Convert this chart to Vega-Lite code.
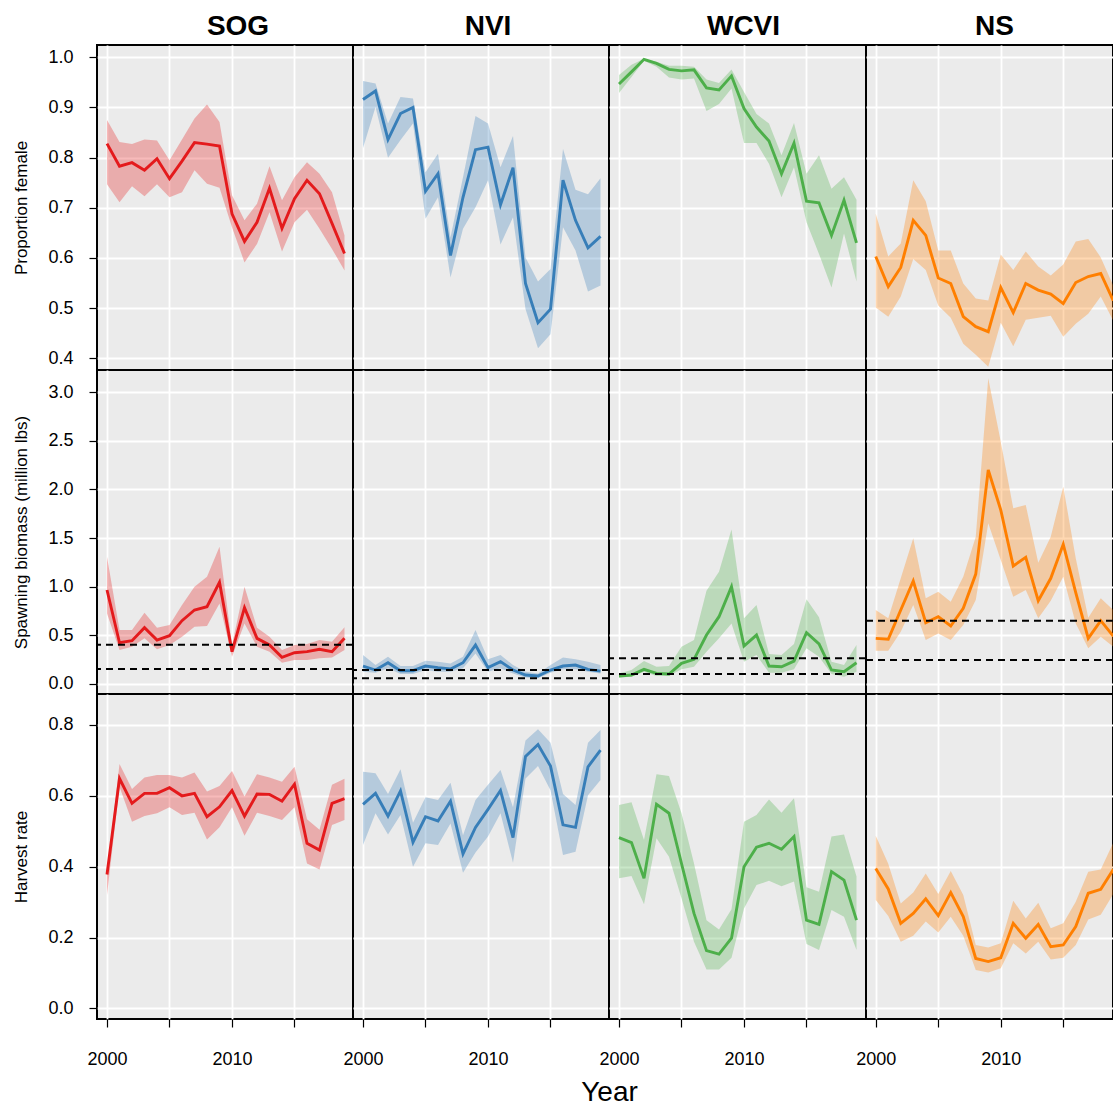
{
"$schema":"https://vega.github.io/schema/vega-lite/v6.json",
"background":"white",
"padding":{"left":11,"top":12,"right":0,"bottom":0},
"datasets":{
"SOG_pf":[{"year":2000,"est":0.828,"lo":0.747,"hi":0.875},{"year":2001,"est":0.783,"lo":0.711,"hi":0.831},{"year":2002,"est":0.790,"lo":0.743,"hi":0.827},{"year":2003,"est":0.775,"lo":0.723,"hi":0.836},{"year":2004,"est":0.798,"lo":0.747,"hi":0.834},{"year":2005,"est":0.758,"lo":0.721,"hi":0.795},{"year":2006,"est":0.793,"lo":0.731,"hi":0.836},{"year":2007,"est":0.830,"lo":0.775,"hi":0.878},{"year":2008,"est":0.827,"lo":0.748,"hi":0.906},{"year":2009,"est":0.823,"lo":0.740,"hi":0.871},{"year":2010,"est":0.688,"lo":0.661,"hi":0.725},{"year":2011,"est":0.633,"lo":0.591,"hi":0.675},{"year":2012,"est":0.671,"lo":0.628,"hi":0.708},{"year":2013,"est":0.739,"lo":0.691,"hi":0.783},{"year":2014,"est":0.659,"lo":0.613,"hi":0.715},{"year":2015,"est":0.718,"lo":0.671,"hi":0.761},{"year":2016,"est":0.755,"lo":0.696,"hi":0.791},{"year":2017,"est":0.728,"lo":0.658,"hi":0.768},{"year":2018,"est":0.669,"lo":0.618,"hi":0.731},{"year":2019,"est":0.609,"lo":0.575,"hi":0.645}],
"NVI_pf":[{"year":2000,"est":0.916,"lo":0.819,"hi":0.953},{"year":2001,"est":0.933,"lo":0.901,"hi":0.948},{"year":2002,"est":0.836,"lo":0.800,"hi":0.868},{"year":2003,"est":0.888,"lo":0.835,"hi":0.921},{"year":2004,"est":0.900,"lo":0.868,"hi":0.918},{"year":2005,"est":0.733,"lo":0.678,"hi":0.771},{"year":2006,"est":0.768,"lo":0.721,"hi":0.808},{"year":2007,"est":0.605,"lo":0.561,"hi":0.641},{"year":2008,"est":0.721,"lo":0.658,"hi":0.761},{"year":2009,"est":0.816,"lo":0.701,"hi":0.883},{"year":2010,"est":0.821,"lo":0.755,"hi":0.868},{"year":2011,"est":0.706,"lo":0.627,"hi":0.781},{"year":2012,"est":0.780,"lo":0.681,"hi":0.843},{"year":2013,"est":0.549,"lo":0.498,"hi":0.601},{"year":2014,"est":0.471,"lo":0.420,"hi":0.553},{"year":2015,"est":0.498,"lo":0.448,"hi":0.578},{"year":2016,"est":0.755,"lo":0.661,"hi":0.817},{"year":2017,"est":0.675,"lo":0.615,"hi":0.736},{"year":2018,"est":0.620,"lo":0.533,"hi":0.727},{"year":2019,"est":0.643,"lo":0.545,"hi":0.759}],
"WCVI_pf":[{"year":2000,"est":0.947,"lo":0.929,"hi":0.965},{"year":2001,"est":0.971,"lo":0.961,"hi":0.985},{"year":2002,"est":0.996,"lo":0.993,"hi":0.997},{"year":2003,"est":0.988,"lo":0.981,"hi":0.991},{"year":2004,"est":0.976,"lo":0.960,"hi":0.983},{"year":2005,"est":0.973,"lo":0.956,"hi":0.983},{"year":2006,"est":0.975,"lo":0.958,"hi":0.981},{"year":2007,"est":0.939,"lo":0.893,"hi":0.956},{"year":2008,"est":0.935,"lo":0.907,"hi":0.949},{"year":2009,"est":0.963,"lo":0.938,"hi":0.976},{"year":2010,"est":0.898,"lo":0.829,"hi":0.931},{"year":2011,"est":0.861,"lo":0.829,"hi":0.887},{"year":2012,"est":0.833,"lo":0.788,"hi":0.868},{"year":2013,"est":0.768,"lo":0.721,"hi":0.805},{"year":2014,"est":0.829,"lo":0.781,"hi":0.869},{"year":2015,"est":0.713,"lo":0.671,"hi":0.768},{"year":2016,"est":0.710,"lo":0.608,"hi":0.805},{"year":2017,"est":0.645,"lo":0.541,"hi":0.738},{"year":2018,"est":0.715,"lo":0.649,"hi":0.761},{"year":2019,"est":0.630,"lo":0.553,"hi":0.716}],
"NS_pf":[{"year":2000,"est":0.603,"lo":0.501,"hi":0.688},{"year":2001,"est":0.543,"lo":0.483,"hi":0.603},{"year":2002,"est":0.581,"lo":0.523,"hi":0.629},{"year":2003,"est":0.675,"lo":0.598,"hi":0.755},{"year":2004,"est":0.645,"lo":0.576,"hi":0.713},{"year":2005,"est":0.560,"lo":0.505,"hi":0.615},{"year":2006,"est":0.549,"lo":0.481,"hi":0.615},{"year":2007,"est":0.483,"lo":0.429,"hi":0.549},{"year":2008,"est":0.463,"lo":0.407,"hi":0.519},{"year":2009,"est":0.453,"lo":0.383,"hi":0.515},{"year":2010,"est":0.541,"lo":0.471,"hi":0.607},{"year":2011,"est":0.491,"lo":0.424,"hi":0.576},{"year":2012,"est":0.549,"lo":0.477,"hi":0.613},{"year":2013,"est":0.536,"lo":0.481,"hi":0.583},{"year":2014,"est":0.528,"lo":0.485,"hi":0.565},{"year":2015,"est":0.509,"lo":0.443,"hi":0.587},{"year":2016,"est":0.551,"lo":0.469,"hi":0.633},{"year":2017,"est":0.563,"lo":0.489,"hi":0.638},{"year":2018,"est":0.569,"lo":0.523,"hi":0.601},{"year":2019,"est":0.515,"lo":0.475,"hi":0.545}],
"SOG_sb":[{"year":2000,"est":0.965,"lo":0.724,"hi":1.308},{"year":2001,"est":0.422,"lo":0.347,"hi":0.553},{"year":2002,"est":0.443,"lo":0.381,"hi":0.553},{"year":2003,"est":0.577,"lo":0.467,"hi":0.731},{"year":2004,"est":0.450,"lo":0.354,"hi":0.577},{"year":2005,"est":0.494,"lo":0.398,"hi":0.604},{"year":2006,"est":0.649,"lo":0.484,"hi":0.810},{"year":2007,"est":0.759,"lo":0.587,"hi":0.999},{"year":2008,"est":0.793,"lo":0.594,"hi":1.102},{"year":2009,"est":1.044,"lo":0.827,"hi":1.411},{"year":2010,"est":0.330,"lo":0.278,"hi":0.398},{"year":2011,"est":0.783,"lo":0.621,"hi":0.999},{"year":2012,"est":0.467,"lo":0.381,"hi":0.577},{"year":2013,"est":0.398,"lo":0.330,"hi":0.484},{"year":2014,"est":0.271,"lo":0.216,"hi":0.347},{"year":2015,"est":0.319,"lo":0.244,"hi":0.398},{"year":2016,"est":0.330,"lo":0.244,"hi":0.409},{"year":2017,"est":0.354,"lo":0.261,"hi":0.450},{"year":2018,"est":0.330,"lo":0.271,"hi":0.433},{"year":2019,"est":0.467,"lo":0.347,"hi":0.580}],
"NVI_sb":[{"year":2000,"est":0.182,"lo":0.124,"hi":0.295},{"year":2001,"est":0.141,"lo":0.113,"hi":0.192},{"year":2002,"est":0.216,"lo":0.158,"hi":0.278},{"year":2003,"est":0.134,"lo":0.100,"hi":0.182},{"year":2004,"est":0.134,"lo":0.100,"hi":0.182},{"year":2005,"est":0.182,"lo":0.141,"hi":0.237},{"year":2006,"est":0.165,"lo":0.124,"hi":0.227},{"year":2007,"est":0.151,"lo":0.124,"hi":0.209},{"year":2008,"est":0.216,"lo":0.158,"hi":0.278},{"year":2009,"est":0.398,"lo":0.312,"hi":0.553},{"year":2010,"est":0.165,"lo":0.124,"hi":0.251},{"year":2011,"est":0.227,"lo":0.158,"hi":0.295},{"year":2012,"est":0.141,"lo":0.106,"hi":0.192},{"year":2013,"est":0.089,"lo":0.065,"hi":0.124},{"year":2014,"est":0.079,"lo":0.055,"hi":0.106},{"year":2015,"est":0.141,"lo":0.113,"hi":0.192},{"year":2016,"est":0.182,"lo":0.148,"hi":0.271},{"year":2017,"est":0.192,"lo":0.148,"hi":0.251},{"year":2018,"est":0.148,"lo":0.124,"hi":0.227},{"year":2019,"est":0.130,"lo":0.106,"hi":0.192}],
"WCVI_sb":[{"year":2000,"est":0.079,"lo":0.065,"hi":0.106},{"year":2001,"est":0.089,"lo":0.072,"hi":0.141},{"year":2002,"est":0.148,"lo":0.124,"hi":0.233},{"year":2003,"est":0.106,"lo":0.079,"hi":0.175},{"year":2004,"est":0.100,"lo":0.079,"hi":0.182},{"year":2005,"est":0.209,"lo":0.148,"hi":0.381},{"year":2006,"est":0.251,"lo":0.175,"hi":0.450},{"year":2007,"est":0.501,"lo":0.330,"hi":0.958},{"year":2008,"est":0.690,"lo":0.467,"hi":1.153},{"year":2009,"est":0.999,"lo":0.621,"hi":1.589},{"year":2010,"est":0.388,"lo":0.227,"hi":0.673},{"year":2011,"est":0.501,"lo":0.295,"hi":0.810},{"year":2012,"est":0.182,"lo":0.113,"hi":0.306},{"year":2013,"est":0.175,"lo":0.113,"hi":0.295},{"year":2014,"est":0.233,"lo":0.148,"hi":0.409},{"year":2015,"est":0.525,"lo":0.364,"hi":0.869},{"year":2016,"est":0.409,"lo":0.278,"hi":0.683},{"year":2017,"est":0.141,"lo":0.100,"hi":0.227},{"year":2018,"est":0.124,"lo":0.072,"hi":0.192},{"year":2019,"est":0.216,"lo":0.124,"hi":0.398}],
"NS_sb":[{"year":2000,"est":0.467,"lo":0.340,"hi":0.759},{"year":2001,"est":0.457,"lo":0.340,"hi":0.673},{"year":2002,"est":0.759,"lo":0.536,"hi":1.085},{"year":2003,"est":1.057,"lo":0.810,"hi":1.497},{"year":2004,"est":0.628,"lo":0.450,"hi":0.879},{"year":2005,"est":0.690,"lo":0.518,"hi":0.947},{"year":2006,"est":0.594,"lo":0.450,"hi":0.845},{"year":2007,"est":0.776,"lo":0.604,"hi":1.102},{"year":2008,"est":1.129,"lo":0.862,"hi":1.514},{"year":2009,"est":2.200,"lo":1.651,"hi":3.145},{"year":2010,"est":1.789,"lo":1.274,"hi":2.492},{"year":2011,"est":1.212,"lo":0.896,"hi":1.806},{"year":2012,"est":1.301,"lo":0.965,"hi":1.840},{"year":2013,"est":0.855,"lo":0.673,"hi":1.246},{"year":2014,"est":1.085,"lo":0.855,"hi":1.514},{"year":2015,"est":1.435,"lo":1.102,"hi":2.029},{"year":2016,"est":0.937,"lo":0.621,"hi":1.291},{"year":2017,"est":0.467,"lo":0.364,"hi":0.680},{"year":2018,"est":0.649,"lo":0.484,"hi":0.879},{"year":2019,"est":0.491,"lo":0.381,"hi":0.759}],
"SOG_ref":[{"value":0.402},{"value":0.151}],
"NVI_ref":[{"value":0.141},{"value":0.055}],
"WCVI_ref":[{"value":0.261},{"value":0.100}],
"NS_ref":[{"value":0.649},{"value":0.244}],
"SOG_hr":[{"year":2000,"est":0.378,"lo":0.320,"hi":0.385},{"year":2001,"est":0.649,"lo":0.626,"hi":0.690},{"year":2002,"est":0.579,"lo":0.527,"hi":0.619},{"year":2003,"est":0.607,"lo":0.543,"hi":0.652},{"year":2004,"est":0.607,"lo":0.551,"hi":0.659},{"year":2005,"est":0.623,"lo":0.568,"hi":0.659},{"year":2006,"est":0.600,"lo":0.546,"hi":0.652},{"year":2007,"est":0.607,"lo":0.552,"hi":0.666},{"year":2008,"est":0.541,"lo":0.477,"hi":0.612},{"year":2009,"est":0.569,"lo":0.511,"hi":0.628},{"year":2010,"est":0.615,"lo":0.568,"hi":0.670},{"year":2011,"est":0.543,"lo":0.487,"hi":0.598},{"year":2012,"est":0.605,"lo":0.552,"hi":0.661},{"year":2013,"est":0.604,"lo":0.543,"hi":0.652},{"year":2014,"est":0.585,"lo":0.532,"hi":0.640},{"year":2015,"est":0.633,"lo":0.568,"hi":0.682},{"year":2016,"est":0.466,"lo":0.409,"hi":0.534},{"year":2017,"est":0.447,"lo":0.392,"hi":0.504},{"year":2018,"est":0.579,"lo":0.518,"hi":0.631},{"year":2019,"est":0.592,"lo":0.532,"hi":0.648}],
"NVI_hr":[{"year":2000,"est":0.576,"lo":0.461,"hi":0.668},{"year":2001,"est":0.607,"lo":0.551,"hi":0.664},{"year":2002,"est":0.543,"lo":0.491,"hi":0.605},{"year":2003,"est":0.614,"lo":0.546,"hi":0.675},{"year":2004,"est":0.469,"lo":0.400,"hi":0.524},{"year":2005,"est":0.541,"lo":0.466,"hi":0.596},{"year":2006,"est":0.529,"lo":0.461,"hi":0.588},{"year":2007,"est":0.585,"lo":0.522,"hi":0.637},{"year":2008,"est":0.436,"lo":0.383,"hi":0.489},{"year":2009,"est":0.511,"lo":0.440,"hi":0.588},{"year":2010,"est":0.562,"lo":0.485,"hi":0.631},{"year":2011,"est":0.615,"lo":0.551,"hi":0.673},{"year":2012,"est":0.482,"lo":0.411,"hi":0.568},{"year":2013,"est":0.711,"lo":0.649,"hi":0.756},{"year":2014,"est":0.745,"lo":0.684,"hi":0.788},{"year":2015,"est":0.684,"lo":0.616,"hi":0.750},{"year":2016,"est":0.518,"lo":0.433,"hi":0.605},{"year":2017,"est":0.511,"lo":0.442,"hi":0.574},{"year":2018,"est":0.682,"lo":0.602,"hi":0.750},{"year":2019,"est":0.729,"lo":0.645,"hi":0.786}],
"WCVI_hr":[{"year":2000,"est":0.482,"lo":0.367,"hi":0.574},{"year":2001,"est":0.468,"lo":0.374,"hi":0.582},{"year":2002,"est":0.367,"lo":0.294,"hi":0.475},{"year":2003,"est":0.576,"lo":0.480,"hi":0.661},{"year":2004,"est":0.551,"lo":0.428,"hi":0.656},{"year":2005,"est":0.409,"lo":0.311,"hi":0.551},{"year":2006,"est":0.268,"lo":0.188,"hi":0.409},{"year":2007,"est":0.163,"lo":0.110,"hi":0.249},{"year":2008,"est":0.153,"lo":0.110,"hi":0.223},{"year":2009,"est":0.198,"lo":0.143,"hi":0.280},{"year":2010,"est":0.400,"lo":0.282,"hi":0.527},{"year":2011,"est":0.455,"lo":0.348,"hi":0.546},{"year":2012,"est":0.466,"lo":0.360,"hi":0.590},{"year":2013,"est":0.449,"lo":0.345,"hi":0.552},{"year":2014,"est":0.485,"lo":0.358,"hi":0.593},{"year":2015,"est":0.249,"lo":0.182,"hi":0.342},{"year":2016,"est":0.237,"lo":0.165,"hi":0.329},{"year":2017,"est":0.386,"lo":0.278,"hi":0.485},{"year":2018,"est":0.362,"lo":0.259,"hi":0.491},{"year":2019,"est":0.249,"lo":0.165,"hi":0.372}],
"NS_hr":[{"year":2000,"est":0.395,"lo":0.306,"hi":0.487},{"year":2001,"est":0.337,"lo":0.261,"hi":0.408},{"year":2002,"est":0.240,"lo":0.188,"hi":0.296},{"year":2003,"est":0.268,"lo":0.205,"hi":0.327},{"year":2004,"est":0.309,"lo":0.245,"hi":0.381},{"year":2005,"est":0.262,"lo":0.214,"hi":0.323},{"year":2006,"est":0.327,"lo":0.259,"hi":0.388},{"year":2007,"est":0.259,"lo":0.205,"hi":0.320},{"year":2008,"est":0.141,"lo":0.108,"hi":0.179},{"year":2009,"est":0.132,"lo":0.101,"hi":0.172},{"year":2010,"est":0.143,"lo":0.113,"hi":0.184},{"year":2011,"est":0.240,"lo":0.184,"hi":0.304},{"year":2012,"est":0.198,"lo":0.155,"hi":0.254},{"year":2013,"est":0.237,"lo":0.188,"hi":0.298},{"year":2014,"est":0.174,"lo":0.138,"hi":0.226},{"year":2015,"est":0.179,"lo":0.143,"hi":0.240},{"year":2016,"est":0.231,"lo":0.179,"hi":0.301},{"year":2017,"est":0.325,"lo":0.251,"hi":0.386},{"year":2018,"est":0.336,"lo":0.264,"hi":0.392},{"year":2019,"est":0.392,"lo":0.323,"hi":0.468}]
},
"columns":4,
"spacing":0,
"align":"each",
"bounds":"flush",
"concat":[
{"width":256,"height":325,
 "title":{"text":"SOG","fontSize":28,"fontWeight":"bold","font":"Liberation Sans","frame":"group","anchor":"middle","dx":13,"offset":-18,"baseline":"alphabetic","color":"black"},
 "layer":[
  {"data":{"name":"SOG_pf"},"mark":{"type":"area","color":"#E41A1C","opacity":0.3,"clip":true},
   "encoding":{"x":{"field":"year","type":"quantitative","scale":{"domain":[1999.2,2019.68],"nice":false,"zero":false},"axis":{"title":null,"labels":false,"ticks":false,"values":[2000,2005,2010,2015]}},
   "y":{"field":"lo","type":"quantitative","scale":{"domain":[0.3766,1.0246],"nice":false,"zero":false},"axis":{"title":"Proportion female","values":[0.4,0.5,0.6,0.7,0.8,0.9,1.0],"format":".1f"}},
   "y2":{"field":"hi"}}},
  {"data":{"name":"SOG_pf"},"mark":{"type":"line","color":"#E41A1C","strokeWidth":2.9,"clip":true},
   "encoding":{"x":{"field":"year","type":"quantitative","scale":{"domain":[1999.2,2019.68],"nice":false,"zero":false},"axis":{"title":null,"labels":false,"ticks":false,"values":[2000,2005,2010,2015]}},
   "y":{"field":"est","type":"quantitative","scale":{"domain":[0.3766,1.0246],"nice":false,"zero":false},"axis":{"title":"Proportion female","values":[0.4,0.5,0.6,0.7,0.8,0.9,1.0],"format":".1f"}}}}
 ]},
{"width":256,"height":325,
 "title":{"text":"NVI","fontSize":28,"fontWeight":"bold","font":"Liberation Sans","frame":"group","anchor":"middle","dx":7,"offset":-18,"baseline":"alphabetic","color":"black"},
 "layer":[
  {"data":{"name":"NVI_pf"},"mark":{"type":"area","color":"#377EB8","opacity":0.3,"clip":true},
   "encoding":{"x":{"field":"year","type":"quantitative","scale":{"domain":[1999.2,2019.68],"nice":false,"zero":false},"axis":{"title":null,"labels":false,"ticks":false,"values":[2000,2005,2010,2015]}},
   "y":{"field":"lo","type":"quantitative","scale":{"domain":[0.3766,1.0246],"nice":false,"zero":false},"axis":{"title":null,"labels":false,"ticks":false,"values":[0.4,0.5,0.6,0.7,0.8,0.9,1.0]}},
   "y2":{"field":"hi"}}},
  {"data":{"name":"NVI_pf"},"mark":{"type":"line","color":"#377EB8","strokeWidth":2.9,"clip":true},
   "encoding":{"x":{"field":"year","type":"quantitative","scale":{"domain":[1999.2,2019.68],"nice":false,"zero":false},"axis":{"title":null,"labels":false,"ticks":false,"values":[2000,2005,2010,2015]}},
   "y":{"field":"est","type":"quantitative","scale":{"domain":[0.3766,1.0246],"nice":false,"zero":false},"axis":{"title":null,"labels":false,"ticks":false,"values":[0.4,0.5,0.6,0.7,0.8,0.9,1.0]}}}}
 ]},
{"width":257,"height":325,
 "title":{"text":"WCVI","fontSize":28,"fontWeight":"bold","font":"Liberation Sans","frame":"group","anchor":"middle","dx":6,"offset":-18,"baseline":"alphabetic","color":"black"},
 "layer":[
  {"data":{"name":"WCVI_pf"},"mark":{"type":"area","color":"#4DAF4A","opacity":0.3,"clip":true},
   "encoding":{"x":{"field":"year","type":"quantitative","scale":{"domain":[1999.2,2019.76],"nice":false,"zero":false},"axis":{"title":null,"labels":false,"ticks":false,"values":[2000,2005,2010,2015]}},
   "y":{"field":"lo","type":"quantitative","scale":{"domain":[0.3766,1.0246],"nice":false,"zero":false},"axis":{"title":null,"labels":false,"ticks":false,"values":[0.4,0.5,0.6,0.7,0.8,0.9,1.0]}},
   "y2":{"field":"hi"}}},
  {"data":{"name":"WCVI_pf"},"mark":{"type":"line","color":"#4DAF4A","strokeWidth":2.9,"clip":true},
   "encoding":{"x":{"field":"year","type":"quantitative","scale":{"domain":[1999.2,2019.76],"nice":false,"zero":false},"axis":{"title":null,"labels":false,"ticks":false,"values":[2000,2005,2010,2015]}},
   "y":{"field":"est","type":"quantitative","scale":{"domain":[0.3766,1.0246],"nice":false,"zero":false},"axis":{"title":null,"labels":false,"ticks":false,"values":[0.4,0.5,0.6,0.7,0.8,0.9,1.0]}}}}
 ]},
{"width":247,"height":325,
 "title":{"text":"NS","fontSize":28,"fontWeight":"bold","font":"Liberation Sans","frame":"group","anchor":"middle","dx":5,"offset":-18,"baseline":"alphabetic","color":"black"},
 "layer":[
  {"data":{"name":"NS_pf"},"mark":{"type":"area","color":"#FF7F00","opacity":0.3,"clip":true},
   "encoding":{"x":{"field":"year","type":"quantitative","scale":{"domain":[1999.22,2018.98],"nice":false,"zero":false},"axis":{"title":null,"labels":false,"ticks":false,"values":[2000,2005,2010,2015]}},
   "y":{"field":"lo","type":"quantitative","scale":{"domain":[0.3766,1.0246],"nice":false,"zero":false},"axis":{"title":null,"labels":false,"ticks":false,"values":[0.4,0.5,0.6,0.7,0.8,0.9,1.0]}},
   "y2":{"field":"hi"}}},
  {"data":{"name":"NS_pf"},"mark":{"type":"line","color":"#FF7F00","strokeWidth":2.9,"clip":true},
   "encoding":{"x":{"field":"year","type":"quantitative","scale":{"domain":[1999.22,2018.98],"nice":false,"zero":false},"axis":{"title":null,"labels":false,"ticks":false,"values":[2000,2005,2010,2015]}},
   "y":{"field":"est","type":"quantitative","scale":{"domain":[0.3766,1.0246],"nice":false,"zero":false},"axis":{"title":null,"labels":false,"ticks":false,"values":[0.4,0.5,0.6,0.7,0.8,0.9,1.0]}}}}
 ]},
{"width":256,"height":324,
 "layer":[
  {"data":{"name":"SOG_sb"},"mark":{"type":"area","color":"#E41A1C","opacity":0.3,"clip":true},
   "encoding":{"x":{"field":"year","type":"quantitative","scale":{"domain":[1999.2,2019.68],"nice":false,"zero":false},"axis":{"title":null,"labels":false,"ticks":false,"values":[2000,2005,2010,2015]}},
   "y":{"field":"lo","type":"quantitative","scale":{"domain":[-0.106,3.23],"nice":false,"zero":false},"axis":{"title":"Spawning biomass (million lbs)","values":[0,0.5,1,1.5,2,2.5,3],"format":".1f"}},
   "y2":{"field":"hi"}}},
  {"data":{"name":"SOG_sb"},"mark":{"type":"line","color":"#E41A1C","strokeWidth":2.9,"clip":true},
   "encoding":{"x":{"field":"year","type":"quantitative","scale":{"domain":[1999.2,2019.68],"nice":false,"zero":false},"axis":{"title":null,"labels":false,"ticks":false,"values":[2000,2005,2010,2015]}},
   "y":{"field":"est","type":"quantitative","scale":{"domain":[-0.106,3.23],"nice":false,"zero":false},"axis":{"title":"Spawning biomass (million lbs)","values":[0,0.5,1,1.5,2,2.5,3],"format":".1f"}}}},
  {"data":{"name":"SOG_ref"},"mark":{"type":"rule","color":"black","strokeDash":[7,5],"strokeWidth":2,"clip":true},
   "encoding":{"y":{"field":"value","type":"quantitative","scale":{"domain":[-0.106,3.23],"nice":false,"zero":false},"axis":{"title":"Spawning biomass (million lbs)","values":[0,0.5,1,1.5,2,2.5,3],"format":".1f"}}}}
 ]},
{"width":256,"height":324,
 "layer":[
  {"data":{"name":"NVI_sb"},"mark":{"type":"area","color":"#377EB8","opacity":0.3,"clip":true},
   "encoding":{"x":{"field":"year","type":"quantitative","scale":{"domain":[1999.2,2019.68],"nice":false,"zero":false},"axis":{"title":null,"labels":false,"ticks":false,"values":[2000,2005,2010,2015]}},
   "y":{"field":"lo","type":"quantitative","scale":{"domain":[-0.106,3.23],"nice":false,"zero":false},"axis":{"title":null,"labels":false,"ticks":false,"values":[0,0.5,1,1.5,2,2.5,3]}},
   "y2":{"field":"hi"}}},
  {"data":{"name":"NVI_sb"},"mark":{"type":"line","color":"#377EB8","strokeWidth":2.9,"clip":true},
   "encoding":{"x":{"field":"year","type":"quantitative","scale":{"domain":[1999.2,2019.68],"nice":false,"zero":false},"axis":{"title":null,"labels":false,"ticks":false,"values":[2000,2005,2010,2015]}},
   "y":{"field":"est","type":"quantitative","scale":{"domain":[-0.106,3.23],"nice":false,"zero":false},"axis":{"title":null,"labels":false,"ticks":false,"values":[0,0.5,1,1.5,2,2.5,3]}}}},
  {"data":{"name":"NVI_ref"},"mark":{"type":"rule","color":"black","strokeDash":[7,5],"strokeWidth":2,"clip":true},
   "encoding":{"y":{"field":"value","type":"quantitative","scale":{"domain":[-0.106,3.23],"nice":false,"zero":false},"axis":{"title":null,"labels":false,"ticks":false,"values":[0,0.5,1,1.5,2,2.5,3]}}}}
 ]},
{"width":257,"height":324,
 "layer":[
  {"data":{"name":"WCVI_sb"},"mark":{"type":"area","color":"#4DAF4A","opacity":0.3,"clip":true},
   "encoding":{"x":{"field":"year","type":"quantitative","scale":{"domain":[1999.2,2019.76],"nice":false,"zero":false},"axis":{"title":null,"labels":false,"ticks":false,"values":[2000,2005,2010,2015]}},
   "y":{"field":"lo","type":"quantitative","scale":{"domain":[-0.106,3.23],"nice":false,"zero":false},"axis":{"title":null,"labels":false,"ticks":false,"values":[0,0.5,1,1.5,2,2.5,3]}},
   "y2":{"field":"hi"}}},
  {"data":{"name":"WCVI_sb"},"mark":{"type":"line","color":"#4DAF4A","strokeWidth":2.9,"clip":true},
   "encoding":{"x":{"field":"year","type":"quantitative","scale":{"domain":[1999.2,2019.76],"nice":false,"zero":false},"axis":{"title":null,"labels":false,"ticks":false,"values":[2000,2005,2010,2015]}},
   "y":{"field":"est","type":"quantitative","scale":{"domain":[-0.106,3.23],"nice":false,"zero":false},"axis":{"title":null,"labels":false,"ticks":false,"values":[0,0.5,1,1.5,2,2.5,3]}}}},
  {"data":{"name":"WCVI_ref"},"mark":{"type":"rule","color":"black","strokeDash":[7,5],"strokeWidth":2,"clip":true},
   "encoding":{"y":{"field":"value","type":"quantitative","scale":{"domain":[-0.106,3.23],"nice":false,"zero":false},"axis":{"title":null,"labels":false,"ticks":false,"values":[0,0.5,1,1.5,2,2.5,3]}}}}
 ]},
{"width":247,"height":324,
 "layer":[
  {"data":{"name":"NS_sb"},"mark":{"type":"area","color":"#FF7F00","opacity":0.3,"clip":true},
   "encoding":{"x":{"field":"year","type":"quantitative","scale":{"domain":[1999.22,2018.98],"nice":false,"zero":false},"axis":{"title":null,"labels":false,"ticks":false,"values":[2000,2005,2010,2015]}},
   "y":{"field":"lo","type":"quantitative","scale":{"domain":[-0.106,3.23],"nice":false,"zero":false},"axis":{"title":null,"labels":false,"ticks":false,"values":[0,0.5,1,1.5,2,2.5,3]}},
   "y2":{"field":"hi"}}},
  {"data":{"name":"NS_sb"},"mark":{"type":"line","color":"#FF7F00","strokeWidth":2.9,"clip":true},
   "encoding":{"x":{"field":"year","type":"quantitative","scale":{"domain":[1999.22,2018.98],"nice":false,"zero":false},"axis":{"title":null,"labels":false,"ticks":false,"values":[2000,2005,2010,2015]}},
   "y":{"field":"est","type":"quantitative","scale":{"domain":[-0.106,3.23],"nice":false,"zero":false},"axis":{"title":null,"labels":false,"ticks":false,"values":[0,0.5,1,1.5,2,2.5,3]}}}},
  {"data":{"name":"NS_ref"},"mark":{"type":"rule","color":"black","strokeDash":[7,5],"strokeWidth":2,"clip":true},
   "encoding":{"y":{"field":"value","type":"quantitative","scale":{"domain":[-0.106,3.23],"nice":false,"zero":false},"axis":{"title":null,"labels":false,"ticks":false,"values":[0,0.5,1,1.5,2,2.5,3]}}}}
 ]},
{"width":256,"height":325,
 "layer":[
  {"data":{"name":"SOG_hr"},"mark":{"type":"area","color":"#E41A1C","opacity":0.3,"clip":true},
   "encoding":{"x":{"field":"year","type":"quantitative","scale":{"domain":[1999.2,2019.68],"nice":false,"zero":false},"axis":{"title":null,"values":[2000,2005,2010,2015],"format":"d","labelExpr":"datum.value % 10 === 0 ? datum.label : ''"}},
   "y":{"field":"lo","type":"quantitative","scale":{"domain":[-0.030,0.8875],"nice":false,"zero":false},"axis":{"title":"Harvest rate","values":[0,0.2,0.4,0.6,0.8],"format":".1f"}},
   "y2":{"field":"hi"}}},
  {"data":{"name":"SOG_hr"},"mark":{"type":"line","color":"#E41A1C","strokeWidth":2.9,"clip":true},
   "encoding":{"x":{"field":"year","type":"quantitative","scale":{"domain":[1999.2,2019.68],"nice":false,"zero":false},"axis":{"title":null,"values":[2000,2005,2010,2015],"format":"d","labelExpr":"datum.value % 10 === 0 ? datum.label : ''"}},
   "y":{"field":"est","type":"quantitative","scale":{"domain":[-0.030,0.8875],"nice":false,"zero":false},"axis":{"title":"Harvest rate","values":[0,0.2,0.4,0.6,0.8],"format":".1f"}}}}
 ]},
{"width":256,"height":325,
 "layer":[
  {"data":{"name":"NVI_hr"},"mark":{"type":"area","color":"#377EB8","opacity":0.3,"clip":true},
   "encoding":{"x":{"field":"year","type":"quantitative","scale":{"domain":[1999.2,2019.68],"nice":false,"zero":false},"axis":{"title":null,"values":[2000,2005,2010,2015],"format":"d","labelExpr":"datum.value % 10 === 0 ? datum.label : ''"}},
   "y":{"field":"lo","type":"quantitative","scale":{"domain":[-0.030,0.8875],"nice":false,"zero":false},"axis":{"title":null,"labels":false,"ticks":false,"values":[0,0.2,0.4,0.6,0.8]}},
   "y2":{"field":"hi"}}},
  {"data":{"name":"NVI_hr"},"mark":{"type":"line","color":"#377EB8","strokeWidth":2.9,"clip":true},
   "encoding":{"x":{"field":"year","type":"quantitative","scale":{"domain":[1999.2,2019.68],"nice":false,"zero":false},"axis":{"title":null,"values":[2000,2005,2010,2015],"format":"d","labelExpr":"datum.value % 10 === 0 ? datum.label : ''"}},
   "y":{"field":"est","type":"quantitative","scale":{"domain":[-0.030,0.8875],"nice":false,"zero":false},"axis":{"title":null,"labels":false,"ticks":false,"values":[0,0.2,0.4,0.6,0.8]}}}}
 ]},
{"width":257,"height":325,
 "layer":[
  {"data":{"name":"WCVI_hr"},"mark":{"type":"area","color":"#4DAF4A","opacity":0.3,"clip":true},
   "encoding":{"x":{"field":"year","type":"quantitative","scale":{"domain":[1999.2,2019.76],"nice":false,"zero":false},"axis":{"title":"Year","titleX":0,"titleY":81,"titleAlign":"center","titleBaseline":"alphabetic","titleFontSize":28,"titleFontWeight":"normal","values":[2000,2005,2010,2015],"format":"d","labelExpr":"datum.value % 10 === 0 ? datum.label : ''"}},
   "y":{"field":"lo","type":"quantitative","scale":{"domain":[-0.030,0.8875],"nice":false,"zero":false},"axis":{"title":null,"labels":false,"ticks":false,"values":[0,0.2,0.4,0.6,0.8]}},
   "y2":{"field":"hi"}}},
  {"data":{"name":"WCVI_hr"},"mark":{"type":"line","color":"#4DAF4A","strokeWidth":2.9,"clip":true},
   "encoding":{"x":{"field":"year","type":"quantitative","scale":{"domain":[1999.2,2019.76],"nice":false,"zero":false},"axis":{"title":"Year","titleX":0,"titleY":81,"titleAlign":"center","titleBaseline":"alphabetic","titleFontSize":28,"titleFontWeight":"normal","values":[2000,2005,2010,2015],"format":"d","labelExpr":"datum.value % 10 === 0 ? datum.label : ''"}},
   "y":{"field":"est","type":"quantitative","scale":{"domain":[-0.030,0.8875],"nice":false,"zero":false},"axis":{"title":null,"labels":false,"ticks":false,"values":[0,0.2,0.4,0.6,0.8]}}}}
 ]},
{"width":247,"height":325,
 "layer":[
  {"data":{"name":"NS_hr"},"mark":{"type":"area","color":"#FF7F00","opacity":0.3,"clip":true},
   "encoding":{"x":{"field":"year","type":"quantitative","scale":{"domain":[1999.22,2018.98],"nice":false,"zero":false},"axis":{"title":null,"values":[2000,2005,2010,2015],"format":"d","labelExpr":"datum.value % 10 === 0 ? datum.label : ''"}},
   "y":{"field":"lo","type":"quantitative","scale":{"domain":[-0.030,0.8875],"nice":false,"zero":false},"axis":{"title":null,"labels":false,"ticks":false,"values":[0,0.2,0.4,0.6,0.8]}},
   "y2":{"field":"hi"}}},
  {"data":{"name":"NS_hr"},"mark":{"type":"line","color":"#FF7F00","strokeWidth":2.9,"clip":true},
   "encoding":{"x":{"field":"year","type":"quantitative","scale":{"domain":[1999.22,2018.98],"nice":false,"zero":false},"axis":{"title":null,"values":[2000,2005,2010,2015],"format":"d","labelExpr":"datum.value % 10 === 0 ? datum.label : ''"}},
   "y":{"field":"est","type":"quantitative","scale":{"domain":[-0.030,0.8875],"nice":false,"zero":false},"axis":{"title":null,"labels":false,"ticks":false,"values":[0,0.2,0.4,0.6,0.8]}}}}
 ]}
],
"config":{
 "font":"Liberation Sans",
 "view":{"fill":"#EBEBEB","stroke":"black","strokeWidth":2},
 "axis":{"domain":false,"grid":true,"gridColor":"white","gridWidth":1.8,"gridOpacity":1,"tickColor":"black","tickWidth":1.2,"tickSize":8,"labelFont":"Liberation Sans","labelFontSize":18,"labelColor":"black","titleFont":"Liberation Sans","titleFontSize":17,"titleFontWeight":"normal","titleColor":"black","labelFlush":false,"labelOverlap":false},
 "axisX":{"labelPadding":23},
 "axisY":{"labelPadding":16,"titlePadding":17}
}
}
